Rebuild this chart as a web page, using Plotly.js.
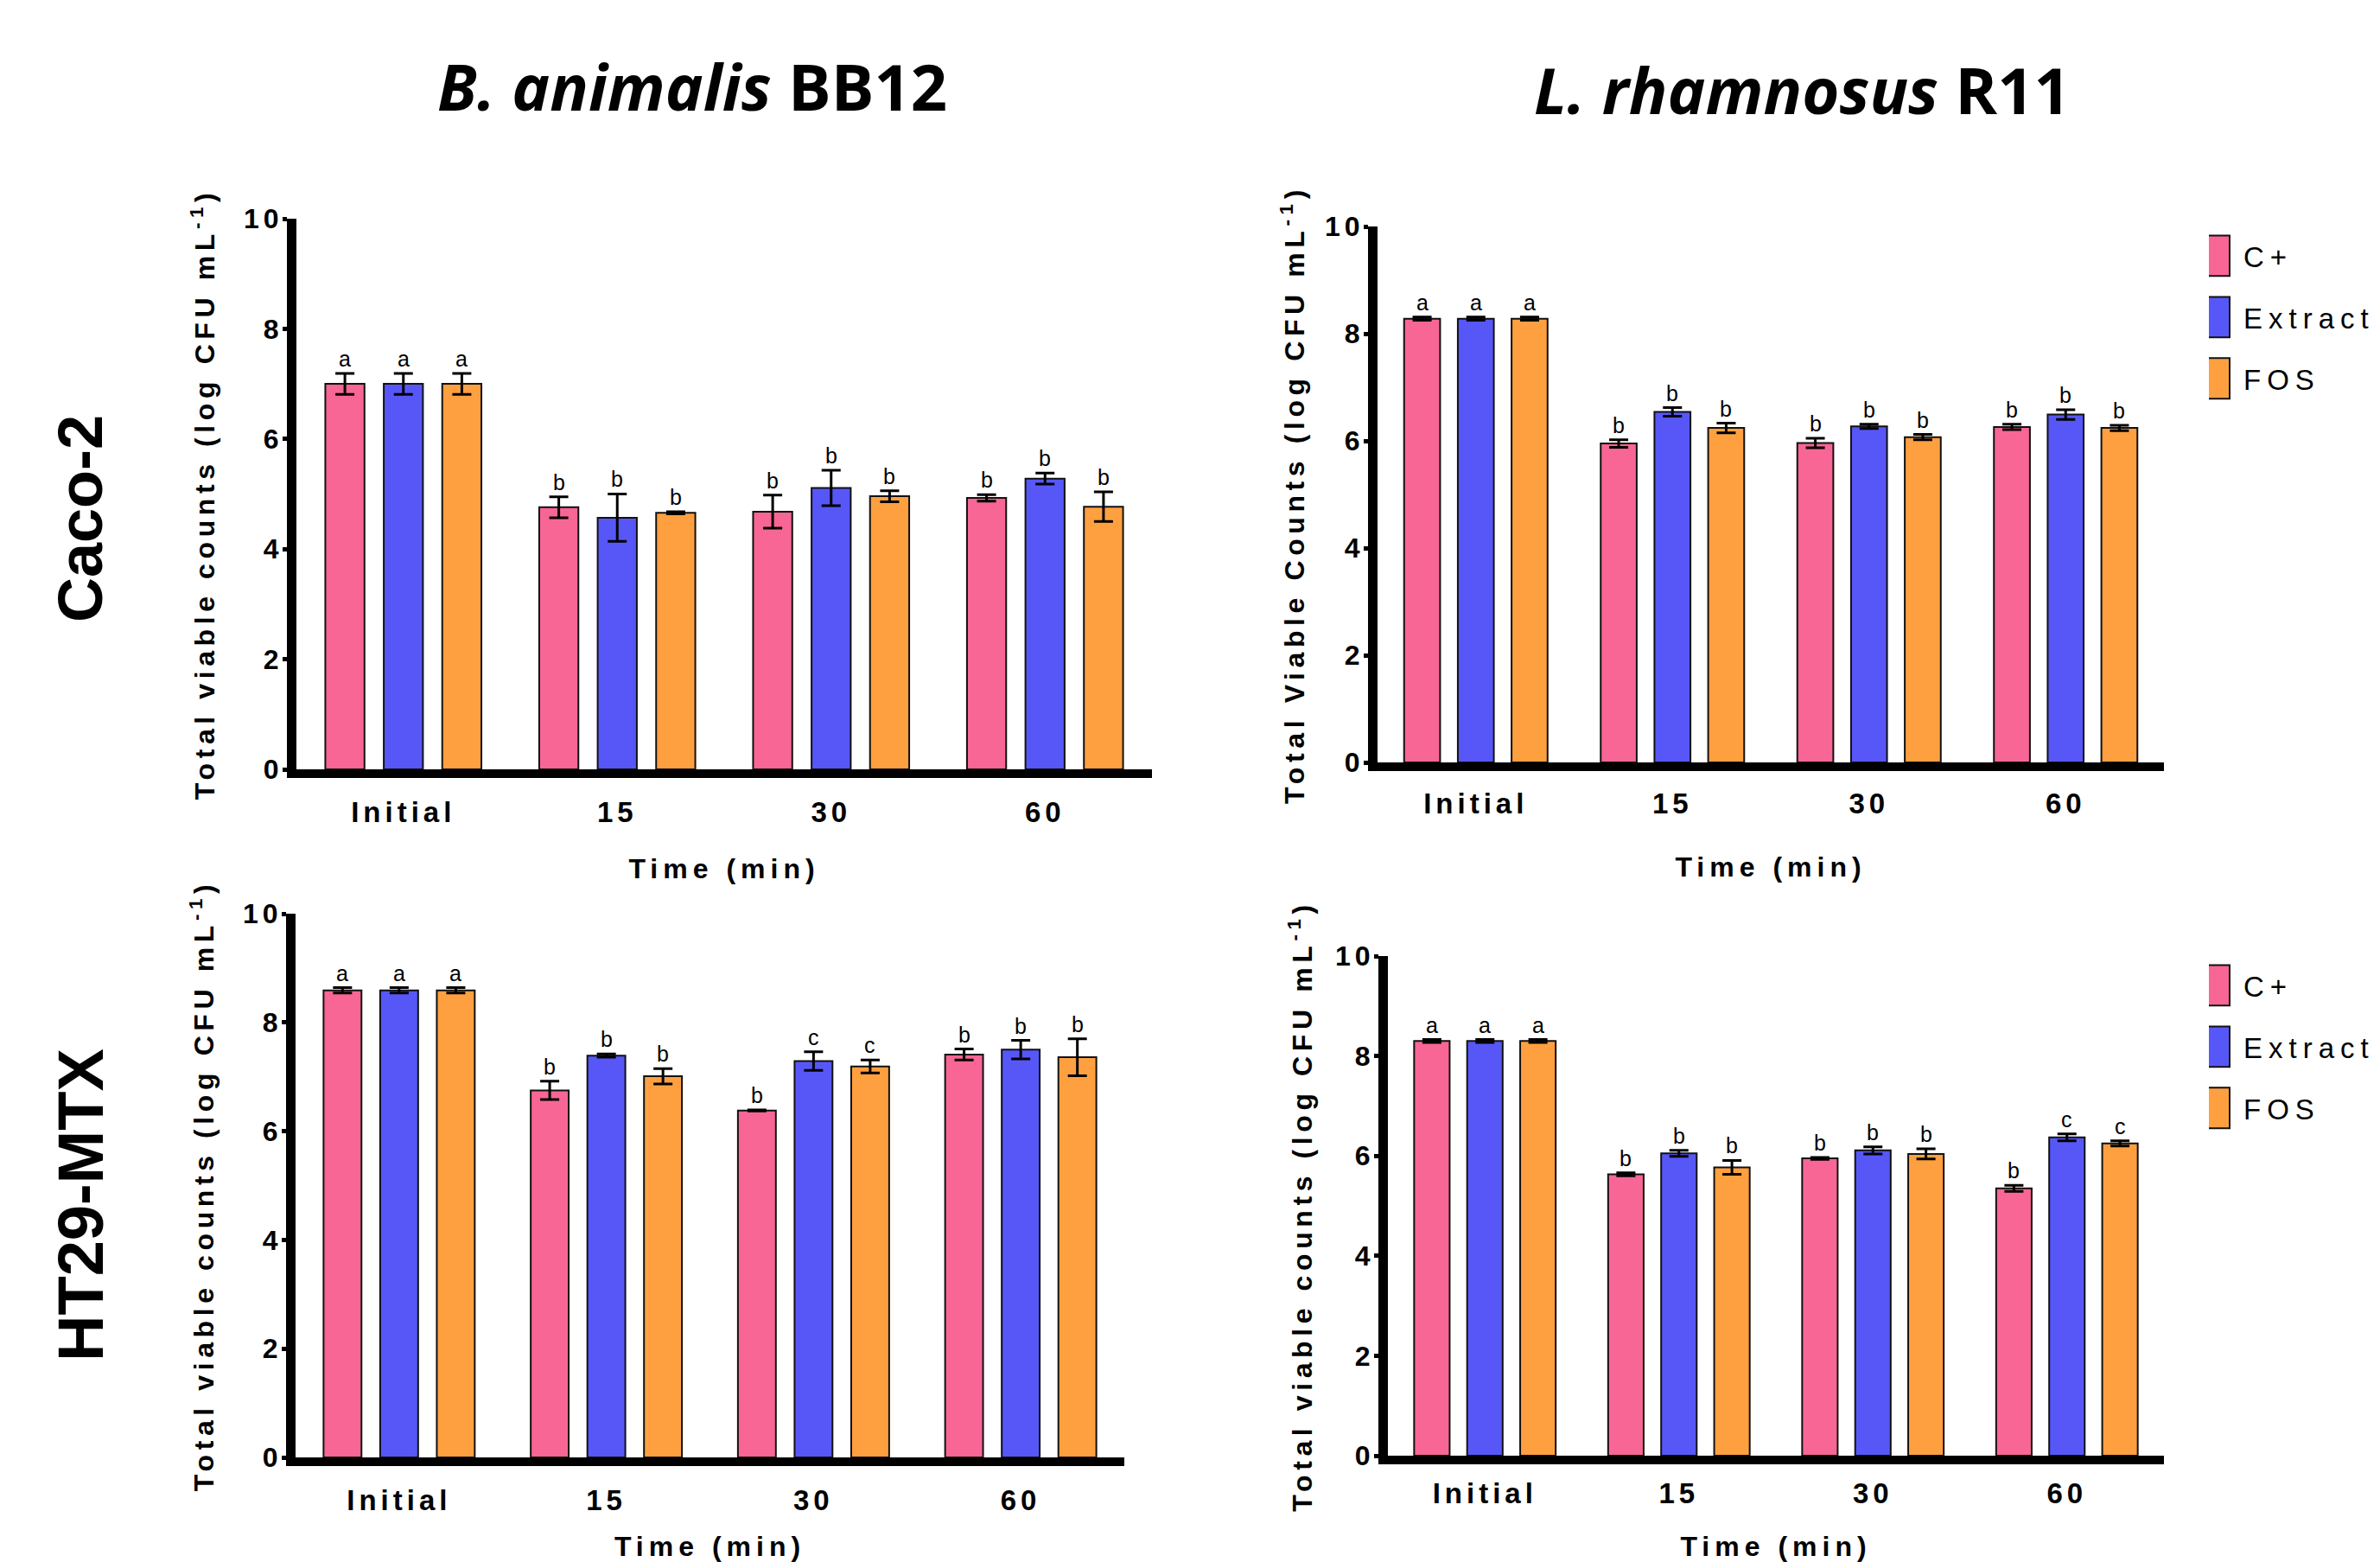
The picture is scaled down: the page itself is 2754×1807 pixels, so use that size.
<!DOCTYPE html>
<html>
<head>
<meta charset="utf-8">
<script src="https://cdn.plot.ly/plotly-3.0.1.min.js"></script>
<style>
  html, body { margin: 0; padding: 0; background: #fff; }
  #chart { width: 2754px; height: 1807px; }
  text.ytitle, text.y2title, text.y3title, text.y4title { letter-spacing: 5.6px; }
  text.xtitle, text.x2title, text.x3title, text.x4title { letter-spacing: 6px; }
  .xaxislayer-above text { letter-spacing: 5px; }
  .yaxislayer-above text { letter-spacing: 5px; }
  .infolayer g[class^="legend"] text, .legendtext { letter-spacing: 7px; }
  .legendpoints path { transform: scale(4, 3.9); vector-effect: non-scaling-stroke; }
</style>
</head>
<body>
<div id="chart"></div>
<script>
// ---------- data ----------
const categories = ['Initial', '15', '30', '60'];
const seriesNames = ['C+', 'Extract', 'FOS'];

// B. animalis BB12 on Caco-2
const bb12Caco_cplus = [7.00, 4.76, 4.68, 4.93];
const bb12Caco_cplus_sd = [0.19, 0.19, 0.30, 0.06];
const bb12Caco_extract = [7.00, 4.57, 5.11, 5.28];
const bb12Caco_extract_sd = [0.19, 0.43, 0.32, 0.10];
const bb12Caco_fos = [7.00, 4.66, 4.96, 4.77];
const bb12Caco_fos_sd = [0.19, 0.02, 0.10, 0.27];
const bb12Caco_cplus_let = ['a', 'b', 'b', 'b'];
const bb12Caco_extract_let = ['a', 'b', 'b', 'b'];
const bb12Caco_fos_let = ['a', 'b', 'b', 'b'];

// L. rhamnosus R11 on Caco-2
const r11Caco_cplus = [8.28, 5.95, 5.96, 6.26];
const r11Caco_cplus_sd = [0.03, 0.07, 0.09, 0.05];
const r11Caco_extract = [8.28, 6.54, 6.27, 6.49];
const r11Caco_extract_sd = [0.03, 0.08, 0.04, 0.09];
const r11Caco_fos = [8.28, 6.24, 6.07, 6.24];
const r11Caco_fos_sd = [0.03, 0.09, 0.05, 0.05];
const r11Caco_cplus_let = ['a', 'b', 'b', 'b'];
const r11Caco_extract_let = ['a', 'b', 'b', 'b'];
const r11Caco_fos_let = ['a', 'b', 'b', 'b'];

// B. animalis BB12 on HT29-MTX
const bb12Ht_cplus = [8.59, 6.75, 6.38, 7.41];
const bb12Ht_cplus_sd = [0.05, 0.17, 0.01, 0.10];
const bb12Ht_extract = [8.59, 7.39, 7.29, 7.50];
const bb12Ht_extract_sd = [0.05, 0.03, 0.17, 0.17];
const bb12Ht_fos = [8.59, 7.01, 7.19, 7.36];
const bb12Ht_fos_sd = [0.05, 0.14, 0.12, 0.34];
const bb12Ht_cplus_let = ['a', 'b', 'b', 'b'];
const bb12Ht_extract_let = ['a', 'b', 'c', 'b'];
const bb12Ht_fos_let = ['a', 'b', 'c', 'b'];

// L. rhamnosus R11 on HT29-MTX
const r11Ht_cplus = [8.30, 5.63, 5.95, 5.35];
const r11Ht_cplus_sd = [0.03, 0.03, 0.02, 0.06];
const r11Ht_extract = [8.30, 6.05, 6.11, 6.37];
const r11Ht_extract_sd = [0.03, 0.06, 0.07, 0.07];
const r11Ht_fos = [8.30, 5.77, 6.04, 6.25];
const r11Ht_fos_sd = [0.03, 0.14, 0.10, 0.05];
const r11Ht_cplus_let = ['a', 'b', 'b', 'b'];
const r11Ht_extract_let = ['a', 'b', 'b', 'c'];
const r11Ht_fos_let = ['a', 'b', 'b', 'c'];

// ---------- styling ----------
const colors = ['#F86695', '#5757F8', '#FFA040'];
const ARIAL = 'Liberation Sans, Arial, sans-serif';
const BARGAP = 0.18, BARGROUPGAP = 0.33;
const slot = (1 - BARGAP) / 3;

const panels = [
  { xa: 'x',  ya: 'y',  legend: null,
    vals: [bb12Caco_cplus, bb12Caco_extract, bb12Caco_fos],
    sds: [bb12Caco_cplus_sd, bb12Caco_extract_sd, bb12Caco_fos_sd],
    lets: [bb12Caco_cplus_let, bb12Caco_extract_let, bb12Caco_fos_let] },
  { xa: 'x2', ya: 'y2', legend: 'legend',
    vals: [r11Caco_cplus, r11Caco_extract, r11Caco_fos],
    sds: [r11Caco_cplus_sd, r11Caco_extract_sd, r11Caco_fos_sd],
    lets: [r11Caco_cplus_let, r11Caco_extract_let, r11Caco_fos_let] },
  { xa: 'x3', ya: 'y3', legend: null,
    vals: [bb12Ht_cplus, bb12Ht_extract, bb12Ht_fos],
    sds: [bb12Ht_cplus_sd, bb12Ht_extract_sd, bb12Ht_fos_sd],
    lets: [bb12Ht_cplus_let, bb12Ht_extract_let, bb12Ht_fos_let] },
  { xa: 'x4', ya: 'y4', legend: 'legend2',
    vals: [r11Ht_cplus, r11Ht_extract, r11Ht_fos],
    sds: [r11Ht_cplus_sd, r11Ht_extract_sd, r11Ht_fos_sd],
    lets: [r11Ht_cplus_let, r11Ht_extract_let, r11Ht_fos_let] }
];

const traces = [];
const annotations = [];
panels.forEach((p, pi) => {
  seriesNames.forEach((name, si) => {
    const t = {
      type: 'bar', name: name, x: categories, y: p.vals[si],
      xaxis: p.xa, yaxis: p.ya,
      marker: { color: colors[si], line: { color: '#111', width: 2 } },
      error_y: { type: 'data', array: p.sds[si], visible: true, color: '#000', thickness: 3, width: 11 },
      showlegend: !!p.legend,
      legendgroup: 'g' + pi + '_' + si,
      hoverinfo: 'none'
    };
    if (p.legend) t.legend = p.legend;
    traces.push(t);
    categories.forEach((c, ci) => {
      annotations.push({
        xref: p.xa, yref: p.ya, x: ci + (si - 1) * slot, y: p.vals[si][ci] + p.sds[si][ci],
        text: p.lets[si][ci], showarrow: false, yanchor: 'bottom', yshift: 1,
        font: { family: ARIAL, size: 25, color: '#000' }
      });
    });
  });
});

// titles and row labels
annotations.push(
  { xref: 'paper', yref: 'paper', x: 801 / 2754, y: 1 - 100 / 1807, xanchor: 'center', yanchor: 'middle',
    text: '<b><i>B. animalis</i> BB12</b>', showarrow: false,
    font: { family: 'Open Sans, sans-serif', size: 74, color: '#000' } },
  { xref: 'paper', yref: 'paper', x: 2085 / 2754, y: 1 - 103 / 1807, xanchor: 'center', yanchor: 'middle',
    text: '<b><i>L. rhamnosus</i> R11</b>', showarrow: false,
    font: { family: 'Open Sans, sans-serif', size: 74, color: '#000' } },
  { xref: 'paper', yref: 'paper', x: 93 / 2754, y: 1 - 600 / 1807, xanchor: 'center', yanchor: 'middle',
    text: '<b>Caco-2</b>', textangle: -90, showarrow: false,
    font: { family: ARIAL, size: 72, color: '#000' } },
  { xref: 'paper', yref: 'paper', x: 93 / 2754, y: 1 - 1394 / 1807, xanchor: 'center', yanchor: 'middle',
    text: '<b>HT29-MTX</b>', textangle: -90, showarrow: false,
    font: { family: ARIAL, size: 74, color: '#000' } }
);

function xAxis(domain, anchor, labelStandoff, titleStandoff) {
  return {
    domain: domain, anchor: anchor, type: 'category', range: [-0.5, 3.5],
    showline: true, linecolor: '#000', linewidth: 10, ticks: '', showgrid: false, zeroline: false,
    ticklabelstandoff: labelStandoff,
    tickfont: { family: ARIAL, size: 33, color: '#000', weight: 'bold' },
    title: { text: 'Time (min)', standoff: titleStandoff, font: { family: ARIAL, size: 32, color: '#000', weight: 'bold' } },
    fixedrange: true
  };
}
function yAxis(domain, anchor, title, titleStandoff) {
  return {
    domain: domain, anchor: anchor, range: [0, 10], dtick: 2, tick0: 0,
    showline: true, linecolor: '#000', linewidth: 11, ticks: 'outside', ticklen: 5, tickwidth: 5, tickcolor: '#000',
    ticklabelstandoff: -7,
    showgrid: false, zeroline: false,
    tickfont: { family: ARIAL, size: 32, color: '#000', weight: 'bold' },
    title: { text: title, standoff: titleStandoff, font: { family: ARIAL, size: 32, color: '#000', weight: 'bold' } },
    fixedrange: true
  };
}

const titleLower = 'Total viable counts (log CFU mL<sup>-1</sup>)';
const titleUpper = 'Total Viable Counts (log CFU mL<sup>-1</sup>)';

const layout = {
  width: 2754, height: 1807,
  margin: { l: 0, r: 0, t: 0, b: 0 },
  paper_bgcolor: '#fff', plot_bgcolor: '#fff',
  barmode: 'group', bargap: BARGAP, bargroupgap: BARGROUPGAP,
  showlegend: true,
  font: { family: ARIAL, color: '#000' },
  xaxis:  xAxis([343 / 2754, 1333 / 2754], 'y', 11, 41),
  yaxis:  yAxis([1 - 890 / 1807, 1 - 253 / 1807], 'x', titleLower, 38),
  xaxis2: xAxis([1594 / 2754, 2504 / 2754], 'y2', 9, 49),
  yaxis2: yAxis([1 - 882 / 1807, 1 - 262 / 1807], 'x2', titleUpper, 28),
  xaxis3: xAxis([342 / 2754, 1301 / 2754], 'y3', 11, 38),
  yaxis3: yAxis([1 - 1686 / 1807, 1 - 1057 / 1807], 'x3', titleLower, 38),
  xaxis4: xAxis([1606 / 2754, 2504 / 2754], 'y4', 5, 40),
  yaxis4: yAxis([1 - 1684 / 1807, 1 - 1106 / 1807], 'x4', titleLower, 31),
  legend: { x: 2556 / 2754, y: 1 - 268 / 1807, xanchor: 'left', yanchor: 'top',
            font: { family: ARIAL, size: 33, color: '#000' }, tracegroupgap: 25, bgcolor: 'rgba(0,0,0,0)',
            traceorder: 'grouped' },
  legend2: { x: 2556 / 2754, y: 1 - 1112 / 1807, xanchor: 'left', yanchor: 'top',
             font: { family: ARIAL, size: 33, color: '#000' }, tracegroupgap: 25, bgcolor: 'rgba(0,0,0,0)',
             traceorder: 'grouped' },
  annotations: annotations
};

Plotly.newPlot('chart', traces, layout, { staticPlot: true, displayModeBar: false });
</script>
</body>
</html>
